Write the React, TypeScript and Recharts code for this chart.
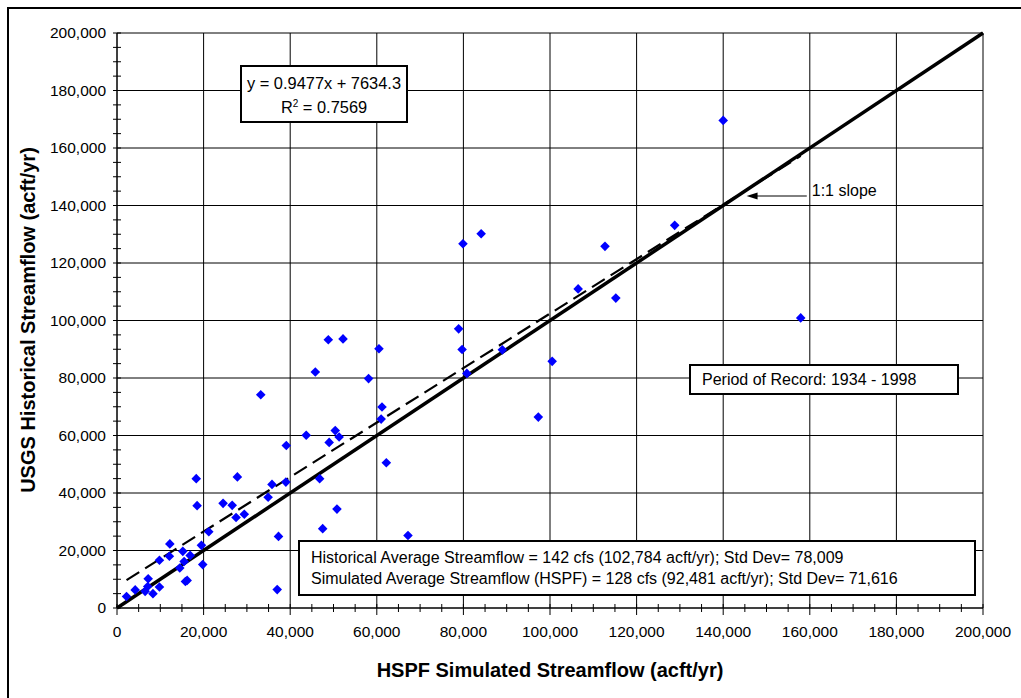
import {
  ScatterChart,
  Scatter,
  XAxis,
  YAxis,
  CartesianGrid,
  ReferenceLine,
} from "recharts";

// HSPF simulated (x) vs USGS historical (y) annual streamflow, acft/yr
const simulated = [
  33200, 43700, 39100, 18300, 27800, 35800, 39000, 34900, 18500, 24500,
  26600, 27500, 29400, 21200, 37300, 19500, 12200, 12100, 9800, 15200,
  16900, 15500, 14500, 19800, 7200, 15800, 16200, 9800, 7100, 8300,
  4200, 2200, 6500, 37000, 48800, 52200, 45800, 60500, 78900, 79700,
  58100, 80800, 61200, 61000, 50400, 49000, 51300, 62200, 46800, 50800,
  47500, 67200, 79900, 84100, 106500, 89000, 100500, 97300, 140000, 128800,
  112700, 115200, 157900,
];
const historical = [
  74200, 60100, 56500, 45000, 45600, 43000, 43800, 38500, 35600, 36400,
  35700, 31500, 32600, 26500, 24900, 21800, 22300, 18000, 16600, 19700,
  18300, 16200, 13900, 15100, 10200, 9200, 9600, 7300, 7500, 5000,
  6300, 4000, 5800, 6400, 93300, 93600, 82100, 90200, 97100, 89900,
  79800, 81600, 69900, 65700, 61700, 57600, 59500, 50500, 45000, 34400,
  27600, 25200, 126700, 130200, 111000, 89800, 85800, 66400, 169600, 133100,
  125800, 107800, 100900,
];

const majorTicks = [
  0, 20000, 40000, 60000, 80000, 100000, 120000, 140000, 160000, 180000, 200000,
];
const minorStep = 5000;
const allTicks = Array.from({ length: 41 }, (_, i) => i * minorStep);

const trendSlope = 0.9477;
const trendIntercept = 7634.3;
const trendXRange = [2200, 157900];

const arrowFrom = { x: 159300, y: 143300 };
const arrowTo = { x: 145400, y: 143300 };

const points = simulated.map((x, i) => ({ x, y: historical[i] }));

const font = '"Liberation Sans", Arial, sans-serif';
const fmt = (v: number) => v.toLocaleString("en-US");

function YTick(props: any) {
  const { x, y, payload } = props;
  const major = payload.value % 20000 === 0;
  return (
    <g>
      <line x1={x - 4} x2={x + 4} y1={y} y2={y} stroke="#000" />
      {major && (
        <text
          x={x - 11}
          y={y}
          dy={5}
          textAnchor="end"
          fontSize={15.5}
          fontFamily={font}
          fill="#000"
        >
          {fmt(payload.value)}
        </text>
      )}
    </g>
  );
}

function XTick(props: any) {
  const { x, y, payload } = props;
  const major = payload.value % 20000 === 0;
  return (
    <g>
      <line x1={x} x2={x} y1={y - 4} y2={y + (major ? 7 : 4)} stroke="#000" />
      {major && (
        <text
          x={x}
          y={y + 29}
          textAnchor="middle"
          fontSize={15.5}
          fontFamily={font}
          fill="#000"
        >
          {fmt(payload.value)}
        </text>
      )}
    </g>
  );
}

const Diamond = (props: any) => {
  const { cx, cy } = props;
  const r = 4.8;
  return (
    <polygon
      points={`${cx},${cy - r} ${cx + r},${cy} ${cx},${cy + r} ${cx - r},${cy}`}
      fill="#0000ff"
    />
  );
};

const SlopeArrow = (props: any) => {
  const { x1, y1, x2, y2 } = props;
  return (
    <g>
      <line x1={x1} y1={y1} x2={x2 + 8} y2={y2} stroke="#000" strokeWidth={1} />
      <polygon
        points={`${x2},${y2} ${x2 + 11},${y2 - 3.5} ${x2 + 11},${y2 + 3.5}`}
        fill="#000"
      />
      <text x={x1 + 5} y={y1} fontSize={16} fontFamily={font} fill="#000">
        1:1 slope
      </text>
    </g>
  );
};

const boxStyle: React.CSSProperties = {
  position: "absolute",
  background: "#fff",
  border: "2px solid #000",
  boxSizing: "border-box",
  fontFamily: font,
  fontSize: 16,
  color: "#000",
  whiteSpace: "nowrap",
};

export default function App() {
  return (
    <div
      style={{
        position: "relative",
        width: 1021,
        height: 698,
        overflow: "hidden",
        background: "#fff",
      }}
    >
      <style>{"body{margin:0}"}</style>
      <div
        style={{
          position: "absolute",
          left: 7,
          top: 7,
          width: 1100,
          height: 800,
          borderLeft: "2px solid #000",
          borderTop: "2px solid #000",
        }}
      />
      <ScatterChart
        width={1021}
        height={698}
        margin={{ top: 33, right: 38, bottom: 50, left: 17 }}
      >
        <CartesianGrid
          stroke="#000"
          strokeWidth={1}
          horizontalValues={majorTicks}
          verticalValues={majorTicks}
        />
        <XAxis
          type="number"
          dataKey="x"
          domain={[0, 200000]}
          ticks={allTicks}
          interval={0}
          height={40}
          tickSize={0}
          tickMargin={0}
          tickLine={false}
          axisLine={{ stroke: "#000" }}
          tick={<XTick />}
        />
        <YAxis
          type="number"
          dataKey="y"
          domain={[0, 200000]}
          ticks={allTicks}
          interval={0}
          width={100}
          tickSize={0}
          tickMargin={0}
          tickLine={false}
          axisLine={{ stroke: "#000" }}
          tick={<YTick />}
        />
        <ReferenceLine
          segment={[
            { x: trendXRange[0], y: trendSlope * trendXRange[0] + trendIntercept },
            { x: trendXRange[1], y: trendSlope * trendXRange[1] + trendIntercept },
          ]}
          stroke="#000"
          strokeWidth={2.2}
          strokeDasharray="15 7"
        />
        <ReferenceLine
          segment={[
            { x: 0, y: 0 },
            { x: 200000, y: 200000 },
          ]}
          stroke="#000"
          strokeWidth={3.5}
        />
        <ReferenceLine segment={[arrowFrom, arrowTo]} shape={SlopeArrow} />
        <Scatter data={points} shape={Diamond} isAnimationActive={false} />
      </ScatterChart>

      <div
        style={{
          ...boxStyle,
          left: 240,
          top: 65,
          width: 168,
          height: 58,
          textAlign: "center",
          lineHeight: "24px",
          paddingTop: 4,
          fontSize: 16.4,
        }}
      >
        <div>y = 0.9477x + 7634.3</div>
        <div>
          R<sup style={{ fontSize: 10, lineHeight: 0 }}>2</sup> = 0.7569
        </div>
      </div>

      <div
        style={{
          ...boxStyle,
          left: 689,
          top: 364,
          width: 270,
          height: 31,
          lineHeight: "27px",
          paddingLeft: 11,
        }}
      >
        Period of Record: 1934 - 1998
      </div>

      <div
        style={{
          ...boxStyle,
          left: 298,
          top: 540,
          width: 678,
          height: 56,
          lineHeight: "21px",
          paddingLeft: 11,
          paddingTop: 5,
        }}
      >
        <div>Historical Average Streamflow = 142 cfs (102,784 acft/yr); Std Dev= 78,009</div>
        <div>Simulated Average Streamflow (HSPF) = 128 cfs (92,481 acft/yr); Std Dev= 71,616</div>
      </div>

      <div
        style={{
          position: "absolute",
          left: 117,
          width: 866,
          top: 659,
          textAlign: "center",
          fontFamily: font,
          fontWeight: "bold",
          fontSize: 20,
        }}
      >
        HSPF Simulated Streamflow (acft/yr)
      </div>
      <div
        style={{
          position: "absolute",
          left: 28,
          top: 320,
          transform: "translate(-50%, -50%) rotate(-90deg)",
          fontFamily: font,
          fontWeight: "bold",
          fontSize: 20,
          whiteSpace: "nowrap",
        }}
      >
        USGS Historical Streamflow (acft/yr)
      </div>
    </div>
  );
}
